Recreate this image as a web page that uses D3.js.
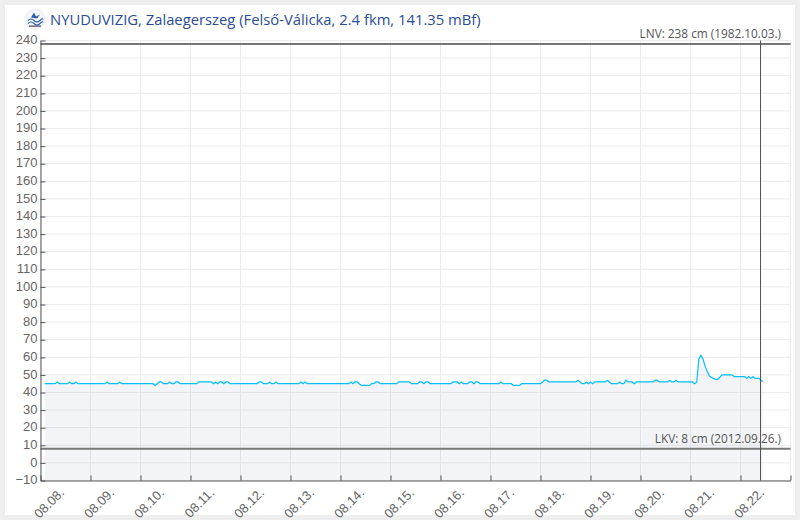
<!DOCTYPE html>
<html lang="hu">

<head>
    <meta charset="UTF-8" />
    <title>NYUDUVIZIG, Zalaegerszeg</title>
    <script src="https://d3js.org/d3.v7.min.js"></script>
    <style>
        html, body {
            margin: 0;
            background: #eeeeee;
            overflow: hidden;
        }

        svg {
            display: block;
        }

        .axis text {
            font-family: "Liberation Sans", Arial, sans-serif;
            font-size: 13px;
            fill: #666;
        }

        .axis line,
        .axis path.domain {
            stroke: #555;
            stroke-width: 1px;
        }

        .grid line {
            stroke: #ececec;
            stroke-width: 1px;
        }

        .note {
            font-family: "Open Sans", sans-serif;
            font-size: 11.8px;
            fill: #555;
            text-anchor: end;
        }

        .title {
            font-family: "Open Sans", sans-serif;
            font-size: 14.8px;
            fill: #2a4d96;
        }
    </style>
</head>

<body>
    <svg id="chart" width="800" height="520"></svg>

    <script>
        const titleText = "NYUDUVIZIG, Zalaegerszeg (Felső-Válicka, 2.4 fkm, 141.35 mBf)";
        const dayLabels = ["08.08.", "08.09.", "08.10.", "08.11.", "08.12.", "08.13.", "08.14.", "08.15.",
            "08.16.", "08.17.", "08.18.", "08.19.", "08.20.", "08.21.", "08.22."];
        const dayHours = [0, 24, 48, 72, 96, 120, 144, 168, 192, 216, 240, 264, 288, 312, 336, 360];
        const levelTicks = [-10, 0, 10, 20, 30, 40, 50, 60, 70, 80, 90, 100, 110, 120, 130, 140, 150, 160,
            170, 180, 190, 200, 210, 220, 230, 240];

        // hours since 08.08. 00:00, only the points where the level changes
        const hours = [2, 7, 8, 9, 13, 14, 15, 16, 17, 18, 31, 32, 33, 37, 38, 39, 54, 55, 56, 57, 58, 59, 61, 62, 63, 64, 65, 66, 67,
            75, 76, 82, 83, 84, 85, 86, 87, 88, 89, 90, 91, 104, 105, 106, 107, 109, 110, 111, 112, 113, 114, 124, 125, 126, 127, 128,
            148, 149, 150, 151, 152, 153, 154, 158, 159, 160, 161, 162, 163, 171, 172, 177, 178, 181, 182, 183, 184, 185, 186, 187,
            197, 198, 200, 201, 202, 203, 205, 206, 207, 208, 209, 210, 211, 220, 221, 222, 226, 227, 230, 231, 240, 241, 242, 243, 244,
            257, 258, 259, 260, 261, 262, 263, 264, 265, 266, 271, 272, 273, 274, 277, 278, 279, 280, 281, 282, 284, 285, 286,
            294, 295, 296, 297, 301, 302, 303, 304, 305, 306, 313, 314, 315, 316, 317, 318, 319, 320, 321, 322, 323, 324, 325, 326,
            327, 332, 333, 335, 338, 339, 340, 341, 342, 343, 345, 346.7];
        const levels = [45, 45, 46, 45, 45, 46, 45, 45, 46, 45, 45, 46, 45, 45, 46, 45, 45, 44, 45, 46, 46, 45, 45, 46, 45, 45, 46, 46, 45,
            45, 46, 46, 45, 46, 45, 46, 46, 45, 46, 46, 45, 45, 46, 46, 45, 45, 46, 45, 45, 46, 45, 45, 46, 45, 46, 45,
            45, 46, 45, 46, 46, 45, 44, 44, 45, 45, 46, 46, 45, 45, 46, 46, 45, 45, 46, 46, 45, 46, 46, 45,
            45, 46, 46, 45, 46, 45, 45, 46, 46, 45, 46, 46, 45, 45, 46, 45, 45, 44, 44, 45, 45, 46, 47, 47, 46,
            46, 47, 46, 45, 45, 46, 45, 46, 45, 46, 46, 47, 46, 45, 45, 46, 45, 45, 47, 46, 46, 45, 46,
            46, 47, 47, 46, 46, 47, 46, 46, 47, 46, 46, 45, 46, 59, 61, 59, 55, 52, 49.5, 48.7, 48, 47.5, 47.5, 48.5,
            50, 50, 49, 49, 49, 48, 49, 48, 49, 48, 48, 46];

        const lnv = { value: 238, label: "LNV: 238 cm (1982.10.03.)" };
        const lkv = { value: 8, label: "LKV: 8 cm (2012.09.26.)" };
        const nowHour = 345.6;

        const svg = d3.select("#chart");

        const x = d3.scaleLinear().domain([0, 360]).range([40.5, 790.5]);
        const y = d3.scaleLinear().domain([-10, 240]).range([480.5, 40.5]);

        svg.append("rect")
            .attr("x", 5).attr("y", 5)
            .attr("width", 790).attr("height", 510)
            .attr("fill", "#fff");

        // logo
        const logo = svg.append("g").attr("transform", "translate(35,19.5)");
        logo.append("circle").attr("r", 10).attr("fill", "#f4f5f8").attr("stroke", "#dfe2ea").attr("stroke-width", 0.6);
        logo.append("path")
            .attr("d", "M-7,1 Q-4,-2 -1,1 T5,1 T8,0 M-7,4 Q-4,1 -1,4 T5,4 T8,3")
            .attr("fill", "none").attr("stroke", "#2a5cab").attr("stroke-width", 1.1);
        logo.append("path")
            .attr("d", "M-4,-2 L-1,-7 L1,-3 L5,-5 L2,-1 Z")
            .attr("fill", "#2a5cab");
        logo.append("rect")
            .attr("x", -6).attr("y", 6).attr("width", 12).attr("height", 1.3).attr("fill", "#556");

        svg.append("text")
            .attr("class", "title")
            .attr("x", 50).attr("y", 25)
            .text(titleText);

        // grid
        const grid = svg.append("g").attr("class", "grid");
        grid.selectAll(".gy")
            .data(levelTicks)
            .join("line")
            .attr("class", "gy")
            .attr("x1", x.range()[0]).attr("x2", x.range()[1])
            .attr("y1", d => y(d)).attr("y2", d => y(d));
        grid.selectAll(".gx")
            .data(dayHours)
            .join("line")
            .attr("class", "gx")
            .attr("x1", d => x(d)).attr("x2", d => x(d))
            .attr("y1", y.range()[1]).attr("y2", y.range()[0]);

        const points = hours.map((h, i) => [h, levels[i]]);

        const area = d3.area()
            .x(d => x(d[0]))
            .y0(y(-10))
            .y1(d => y(d[1]));

        const line = d3.line()
            .x(d => x(d[0]))
            .y(d => y(d[1]));

        svg.append("path")
            .attr("d", area(points))
            .attr("fill", "#1f3c88")
            .attr("fill-opacity", 0.06);

        svg.append("path")
            .attr("d", line(points))
            .attr("fill", "none")
            .attr("stroke", "#00bfff")
            .attr("stroke-width", 1.2);

        // LNV / LKV lines
        [lnv, lkv].forEach(d => {
            svg.append("line")
                .attr("x1", x.range()[0]).attr("x2", x.range()[1])
                .attr("y1", y(d.value)).attr("y2", y(d.value))
                .attr("stroke", "#777")
                .attr("stroke-width", 2);
            svg.append("text")
                .attr("class", "note")
                .attr("x", 781)
                .attr("y", y(d.value) - 6)
                .text(d.label);
        });

        const yAxis = d3.axisLeft(y)
            .tickValues(levelTicks)
            .tickSizeInner(-5)
            .tickSizeOuter(0)
            .tickPadding(3);

        const yGroup = svg.append("g")
            .attr("class", "axis")
            .attr("transform", `translate(${x.range()[0]},0)`)
            .call(yAxis);

        yGroup.selectAll(".tick text").attr("dy", "0.24em");

        const xAxis = d3.axisBottom(x)
            .tickValues(dayHours)
            .tickFormat((d, i) => dayLabels[i] || "")
            .tickSizeInner(-5)
            .tickSizeOuter(0);

        const xGroup = svg.append("g")
            .attr("class", "axis")
            .attr("transform", `translate(0,${y.range()[0]})`)
            .call(xAxis);

        // labels sit in the middle of each day, rotated
        const halfDay = x(12) - x(0);
        xGroup.selectAll(".tick text")
            .attr("x", 0).attr("y", 0).attr("dy", 0)
            .attr("text-anchor", "end")
            .attr("transform", `translate(${halfDay - 1},13) rotate(-45)`);

        // current time marker
        svg.append("line")
            .attr("x1", x(nowHour)).attr("x2", x(nowHour))
            .attr("y1", y.range()[1]).attr("y2", y.range()[0])
            .attr("stroke", "#555")
            .attr("stroke-width", 1);
    </script>
</body>

</html>
